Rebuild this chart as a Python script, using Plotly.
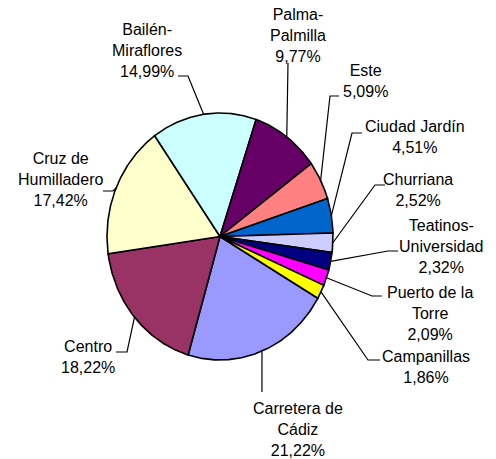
import numpy as np
import plotly.graph_objects as go

# ---- data ----
categories = ["Carretera de Cádiz", "Centro", "Cruz de Humilladero", "Bailén-Miraflores",
              "Palma-Palmilla", "Este", "Ciudad Jardín", "Churriana",
              "Teatinos-Universidad", "Puerto de la Torre", "Campanillas"]
label_names = ["Carretera de<br>Cádiz", "Centro", "Cruz de<br>Humilladero", "Bailén-<br>Miraflores",
               "Palma-<br>Palmilla", "Este", "Ciudad Jardín", "Churriana",
               "Teatinos-<br>Universidad", "Puerto de la<br>Torre", "Campanillas"]
values = [21.22, 18.22, 17.42, 14.99, 9.77, 5.09, 4.51, 2.52, 2.32, 2.09, 1.86]

# ---- style / layout ----
colors = ["#9999FF", "#993366", "#FFFFCC", "#CCFFFF", "#660066", "#FF8080",
          "#0066CC", "#CCCCFF", "#000080", "#FF00FF", "#FFFF00"]
W, H = 496, 459
CX, CY, RX, RY = 220.0, 236.5, 113.0, 123.5   # pie ellipse in pixels
START_ANGLE = 120.0                            # first slice start, clockwise from 12 o'clock

# label text centres and leader elbow points (pixels)
label_pos = [(298, 429), (88, 357), (60, 179), (147, 50), (298, 35), (365, 80.5),
             (415, 137), (418, 189.5), (441, 246.7), (430, 313), (425.5, 366.7)]
leader_pts = [[(262, 392)],
              [(116, 352), (127, 352)],
              [(103, 191), (113, 191)],
              [(178, 76), (188, 76)],
              [(288, 63)],
              [(339, 96), (330, 96)],
              [(362, 133), (352, 133)],
              [(385, 185), (375, 185)],
              [(398, 251), (388, 251)],
              [(382, 296), (372, 296)],
              [(380, 360), (368, 360)]]


def px2x(px):
    return (px - CX) / RX


def py2y(py):
    return (CY - py) / RY


fig = go.Figure()

total = sum(values)
angle = START_ANGLE
mids = []
for v, c in zip(values, colors):
    span = v / total * 360.0
    th = np.radians(np.linspace(angle, angle + span, max(int(span * 2), 4)))
    xs = np.concatenate([[0], np.sin(th), [0]])
    ys = np.concatenate([[0], np.cos(th), [0]])
    fig.add_trace(go.Scatter(x=xs, y=ys, mode="lines", fill="toself", fillcolor=c,
                             line=dict(color="black", width=1.6), hoverinfo="skip",
                             showlegend=False))
    mids.append(np.radians(angle + span / 2))
    angle += span

for name, v, m, (lx, ly), pts in zip(label_names, values, mids, label_pos, leader_pts):
    xs = [px2x(p[0]) for p in pts] + [np.sin(m)]
    ys = [py2y(p[1]) for p in pts] + [np.cos(m)]
    fig.add_trace(go.Scatter(x=xs, y=ys, mode="lines", line=dict(color="black", width=1.2),
                             hoverinfo="skip", showlegend=False))
    txt = f"{name}<br>{v:.2f}".replace(".", ",") + "%"
    fig.add_annotation(x=px2x(lx), y=py2y(ly), xref="x", yref="y", text=txt,
                       showarrow=False, xanchor="center", yanchor="middle", align="center",
                       font=dict(family="Liberation Sans, Arial, sans-serif", size=16,
                                 color="black"))

fig.update_layout(
    width=W, height=H,
    margin=dict(l=0, r=0, t=0, b=0),
    paper_bgcolor="white", plot_bgcolor="white",
    xaxis=dict(range=[px2x(0), px2x(W)], visible=False, fixedrange=True),
    yaxis=dict(range=[py2y(H), py2y(0)], visible=False, fixedrange=True),
    showlegend=False,
)

fig.write_html("out.html", config={"displayModeBar": False},
               post_script="document.body.style.margin='0';document.body.style.overflow='hidden';")
